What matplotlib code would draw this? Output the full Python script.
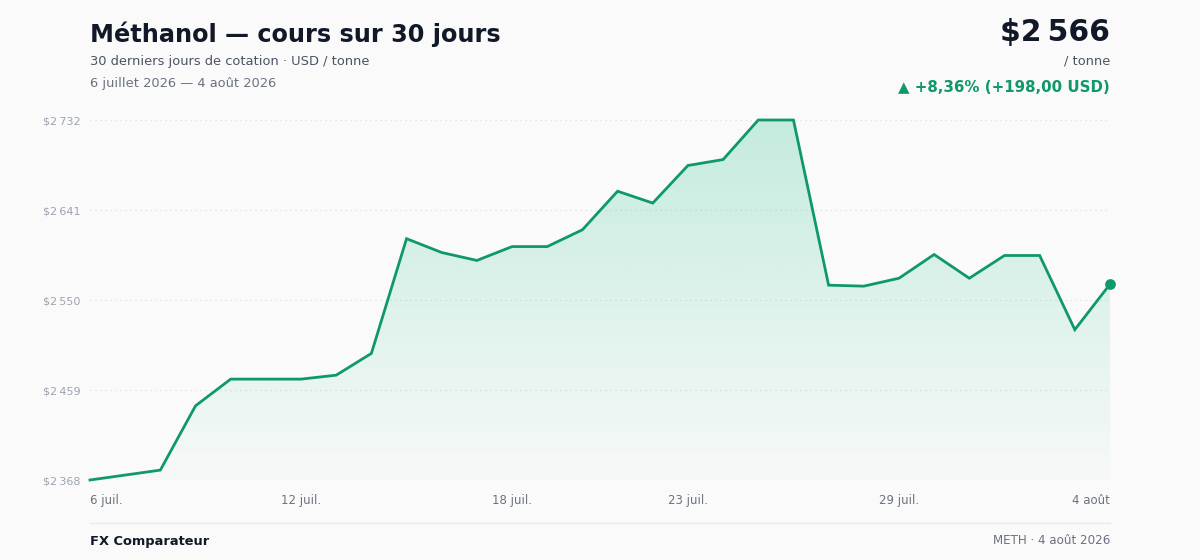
import matplotlib.pyplot as plt
import numpy as np

# Données : cours quotidien du méthanol (USD / tonne), 6 juil. -> 4 août 2026
prices = [2368, 2373, 2378, 2443, 2470, 2470, 2470, 2474, 2496, 2612,
          2598, 2590, 2604, 2604, 2621, 2660, 2648, 2686, 2692, 2732,
          2732, 2565, 2564, 2572, 2596, 2572, 2595, 2595, 2520, 2566]
tick_idx = [0, 6, 12, 17, 23, 29]
tick_labels = ["6 juil.", "12 juil.", "18 juil.", "23 juil.", "29 juil.", "4 août"]
y_ticks = [2368, 2459, 2550, 2641, 2732]

green = "#0f9968"
fill_green = "#10b981"
bg = "#fafafa"

W, H = 1200, 560
fig = plt.figure(figsize=(W / 100, H / 100), dpi=100, facecolor=bg)


def px(x, y):
    return x / W, 1 - y / H


ax = fig.add_axes([90 / W, (H - 480) / H, 1020 / W, 360 / H])
ax.set_facecolor(bg)

x = np.arange(len(prices))
y = np.array(prices)
ymin, ymax = min(prices), max(prices)
ax.set_xlim(0, len(prices) - 1)
ax.set_ylim(ymin, ymax)

# remplissage en dégradé sous la courbe
poly = ax.fill_between(x, y, ymin, facecolor="none", edgecolor="none")
grad = np.zeros((256, 1, 4))
rgb = np.array([int(fill_green[i:i + 2], 16) / 255 for i in (1, 3, 5)])
grad[:, 0, :3] = rgb
grad[:, 0, 3] = np.linspace(0.23, 0.015, 256)
im = ax.imshow(grad, aspect="auto", extent=[0, len(prices) - 1, ymin, ymax],
               origin="upper", zorder=1)
im.set_clip_path(poly.get_paths()[0], transform=ax.transData)

ax.plot(x, y, color=green, lw=2, zorder=3, clip_on=False, solid_joinstyle="miter")
ax.scatter([x[-1]], [y[-1]], s=45, color=green, zorder=4, clip_on=False)

for v in y_ticks:
    ax.axhline(v, color="#dcdfe4", lw=0.9, ls=(0, (1, 3)), zorder=0.5)

for s in ax.spines.values():
    s.set_visible(False)
ax.tick_params(length=0)
ax.set_yticks(y_ticks)
ax.set_yticklabels(["$" + f"{v:,}".replace(",", "\u202f") for v in y_ticks],
                   fontsize=8, color="#9ca3af")
ax.tick_params(axis="y", pad=7)
ax.set_xticks(tick_idx)
ax.set_xticklabels(tick_labels, fontsize=8.5, color="#6b7280")
ax.tick_params(axis="x", pad=10)
labs = ax.get_xticklabels()
labs[0].set_ha("left")
labs[-1].set_ha("right")

# en-tête
fig.text(*px(90, 34), "Méthanol — cours sur 30 jours", fontsize=17.3,
         fontweight="bold", color="#111827", va="center")
fig.text(*px(90, 61), "30 derniers jours de cotation · USD / tonne",
         fontsize=9.35, color="#4b5563", va="center")
fig.text(*px(90, 83), "6 juillet 2026 — 4 août 2026",
         fontsize=9.35, color="#6b7280", va="center")

fig.text(*px(1110, 33), "$" + f"{prices[-1]:,}".replace(",", "\u202f"),
         fontsize=21.5, fontweight="bold", color="#111827", ha="right", va="center")
fig.text(*px(1110, 61), "/ tonne", fontsize=9.35, color="#4b5563",
         ha="right", va="center")
change = prices[-1] - prices[0]
pct = change / prices[0] * 100
fig.text(*px(1110, 87),
         f"▲ +{pct:.2f}% (+{change:.2f} USD)".replace(".", ","),
         fontsize=10.8, fontweight="bold", color=green, ha="right", va="center")

# pied de page
fig.add_artist(plt.Line2D([90 / W, 1110 / W], [1 - 523 / H, 1 - 523 / H],
                          color="#e8eaed", lw=1))
fig.text(*px(90, 541), "FX Comparateur", fontsize=9.4, fontweight="bold",
         color="#111827", va="center")
fig.text(*px(1110, 541), "METH · 4 août 2026", fontsize=8.6,
         color="#6b7280", ha="right", va="center")

fig.savefig("out.png", dpi=100, facecolor=bg)
